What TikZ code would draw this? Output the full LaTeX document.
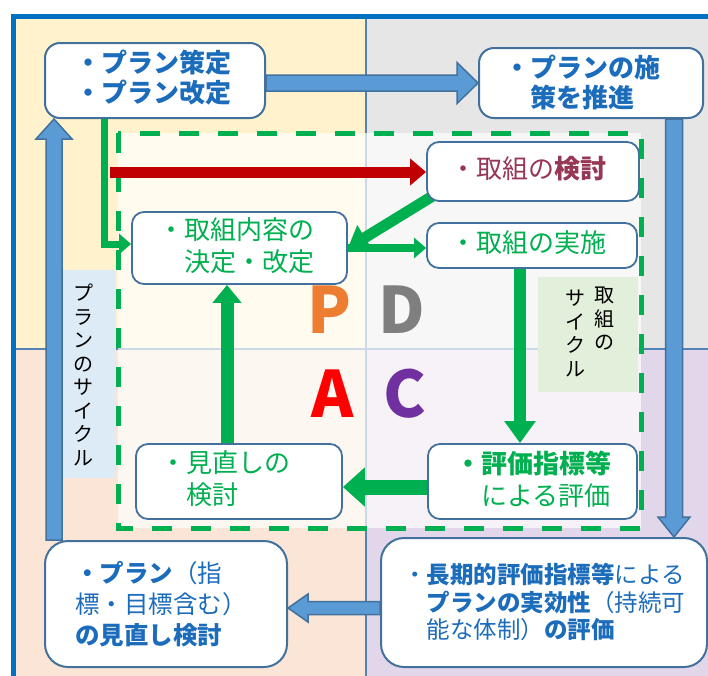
\documentclass[tikz,border=0pt]{standalone}
\usepackage{fontspec}
\setmainfont{Noto Sans CJK JP}
\usetikzlibrary{arrows.meta,calc,backgrounds}
\definecolor{frameblue}{RGB}{0,112,192}
\definecolor{qtl}{RGB}{255,242,204}
\definecolor{qtr}{RGB}{230,230,230}
\definecolor{qbl}{RGB}{251,229,214}
\definecolor{qbr}{RGB}{226,214,234}
\definecolor{divline}{RGB}{84,130,180}
\definecolor{boxline}{RGB}{65,113,156}
\definecolor{txtblue}{RGB}{28,108,188}
\definecolor{arrfill}{RGB}{91,155,213}
\definecolor{arrline}{RGB}{65,113,156}
\definecolor{ggreen}{RGB}{0,176,80}
\definecolor{dred}{RGB}{192,0,0}
\definecolor{kentotxt}{RGB}{150,55,85}
\definecolor{lblue}{RGB}{221,235,247}
\definecolor{lgreen}{RGB}{226,239,218}
\definecolor{pcol}{RGB}{237,125,49}
\definecolor{dcol}{RGB}{127,127,127}
\definecolor{acol}{RGB}{255,0,0}
\definecolor{ccol}{RGB}{112,48,160}
\newcommand{\blkarr}[5]{%
  \path ($(#2)!#5!(#1)$) coordinate (bkc);
  \filldraw[bigarrow] ($(#1)!#3!90:(#2)$) -- ($(bkc)!#3!-90:(#1)$) -- ($(bkc)!#4!-90:(#1)$) -- (#2) -- ($(bkc)!#4!90:(#1)$) -- ($(bkc)!#3!90:(#1)$) -- ($(#1)!#3!-90:(#2)$) -- cycle;}
\begin{document}
\begin{tikzpicture}[x=1pt,y=-1pt,
  bigbox/.style={draw=boxline, line width=2, fill=white, inner sep=0},
  ibox/.style={draw=boxline, line width=1.8, fill=white, rounded corners=12, inner sep=0},
  btext/.style={inner sep=0, anchor=west, align=left},
  bigarrow/.style={fill=arrfill, draw=arrline, line width=1.5},
  gar/.style={draw=ggreen, line width=#1},
  topfont/.style={font=\fontsize{26}{30}\selectfont\bfseries},
  infont/.style={font=\fontsize{26}{32}\selectfont},
  vfont/.style={font=\fontsize{20}{23.5}\selectfont, inner sep=0, align=center},
  pdca/.style={font=\fontsize{64}{64}\selectfont\bfseries, inner sep=0}]
\useasboundingbox (0,0) rectangle (708,675);
% boxes
\node[bigbox, rounded corners=15, minimum width=220, minimum height=75] (tl) at (155,80.5) {};
\node[bigbox, rounded corners=15, minimum width=224, minimum height=70] (tr) at (591,83) {};
\node[bigbox, rounded corners=23, minimum width=242, minimum height=126] (bl) at (166,604) {};
\node[bigbox, rounded corners=23, minimum width=326, minimum height=129] (br) at (544,602.5) {};
\node[ibox, minimum width=212, minimum height=59] (kento) at (533,171.5) {};
\node[ibox, minimum width=210, minimum height=45] (jisshi) at (532,245.5) {};
\node[ibox, minimum width=215, minimum height=72] (naiyou) at (239.5,248) {};
\node[ibox, minimum width=206, minimum height=75] (minaoshi) at (239,481.5) {};
\node[ibox, minimum width=209, minimum height=75] (hyouka) at (532.5,481.5) {};
% texts
\node[btext, topfont, text=txtblue] (tlt) at (75,78) {・プラン策定\\・プラン改定};
\node[btext, topfont, text=txtblue] (trt) at (504,82) {・プランの施\\\hspace*{1em}策を推進};
\node[btext, infont, text=kentotxt] (kt) at (450,169) {・取組の\textbf{検討}};
\node[btext, infont, text=ggreen] (jt) at (450,243) {・取組の実施};
\node[btext, infont, text=ggreen] (nt) at (158,246) {・取組内容の\\\hspace*{1em}決定・改定};
\node[btext, infont, text=ggreen] (mt) at (160,479) {・見直しの\\\hspace*{1em}検討};
\node[btext, infont, text=ggreen] (ht) at (455,479) {\textbf{・評価指標等}\\\hspace*{1em}による評価};
\node[btext, text=txtblue, font=\fontsize{24.5}{31}\selectfont] (blt) at (75,604) {\textbf{・プラン}（指\\標・目標含む）\\\textbf{の見直し検討}};
\node[btext, text=txtblue, font=\fontsize{23.5}{27.5}\selectfont] (brt) at (403,602) {・\textbf{長期的評価指標等}による\\\hspace*{1em}\textbf{プランの実効性}（持続可\\\hspace*{1em}能な体制）\textbf{の評価}};
\begin{scope}[on background layer]
  % quadrants
  \fill[qtl] (13,16) rectangle (366,349);
  \fill[qtr] (366,16) rectangle (712,349);
  \fill[qbl] (13,349) rectangle (366,680);
  \fill[qbr] (366,349) rectangle (712,680);
  \draw[divline, line width=2.5] (366,16) -- (366,680);
  \draw[divline, line width=2.5] (13,349) -- (712,349);
  \draw[frameblue, line width=5] (13,16) rectangle (716,690);
  % inner region
  \fill[white, opacity=0.7] (118,133) rectangle (641,528);
  \node[fill=lblue, minimum width=53, minimum height=208, inner sep=0] (plab) at (89.5,374) {};
  \node[vfont] (plabt) at (83,375) {プ\\ラ\\ン\\の\\サ\\イ\\ク\\ル};
  \node[fill=lgreen, minimum width=100, minimum height=115, inner sep=0] (jlab) at (588,334.5) {};
  \node[vfont, anchor=north] (jlabt1) at (604,287) {取\\組\\の};
  \node[vfont, anchor=north] (jlabt2) at (575,290) {サ\\イ\\ク\\ル};
  \node[pdca, text=pcol] (P) at (329,310) {P};
  \node[pdca, text=dcol] (D) at (402,310) {D};
  \node[pdca, text=acol] (A) at (333,394) {A};
  \node[pdca, text=ccol] (C) at (405,394) {C};
  \draw[ggreen, line width=5, dash pattern=on 20pt off 19pt] (118,133) rectangle (641,528);
  % big blue arrows
  \path (tr.west) coordinate (tb);
  \path (tl.east |- tb) coordinate (ta);
  \blkarr{ta}{tb}{8pt}{20.5pt}{21pt}
  \coordinate (rx) at (674,0);
  \path (tr.south -| rx) coordinate (ra);
  \path (br.north -| rx) coordinate (rb);
  \blkarr{ra}{rb}{8.5pt}{16pt}{20pt}
  \coordinate (by) at (0,608);
  \path (br.west |- by) coordinate (ba);
  \path (bl.east |- by) coordinate (bb);
  \blkarr{ba}{bb}{6.5pt}{14pt}{20pt}
  \coordinate (lx2) at (54,0);
  \path (bl.north -| lx2) coordinate (la);
  \path (tl.south -| lx2) coordinate (lb);
  \blkarr{la}{lb}{8pt}{18pt}{20pt}
  % green and red arrows
  \coordinate (lx) at (104,0);
  \draw[gar=7, -{Triangle[length=12pt,width=20pt]}] (tl.south -| lx) |- ($(naiyou.west)+(0,-4)$);
  \coordinate (rs) at (110,172);
  \draw[dred, line width=11, -{Triangle[length=16pt,width=26pt]}] (rs) -- (kento.west |- rs);
  \path ($(kento.south west)+(10,-8)$) coordinate (dgs);
  \draw[gar=11, -{Triangle[length=20pt,width=28pt]}] (dgs) -- (naiyou.east);
  \draw[gar=8, -{Triangle[length=12pt,width=20pt]}] (naiyou.east) -- (jisshi.west |- naiyou.east);
  \coordinate (dx) at (520,0);
  \draw[gar=12, -{Triangle[length=22pt,width=30pt]}] (jisshi.south -| dx) -- (hyouka.north -| dx);
  \coordinate (ly) at (0,487);
  \draw[gar=15, -{Triangle[length=22pt,width=38pt]}] (hyouka.west |- ly) -- (minaoshi.east |- ly);
  \coordinate (ux) at (227,0);
  \draw[gar=13, -{Triangle[length=18pt,width=28pt]}] (minaoshi.north -| ux) -- (naiyou.south -| ux);
\end{scope}
\end{tikzpicture}
\end{document}
